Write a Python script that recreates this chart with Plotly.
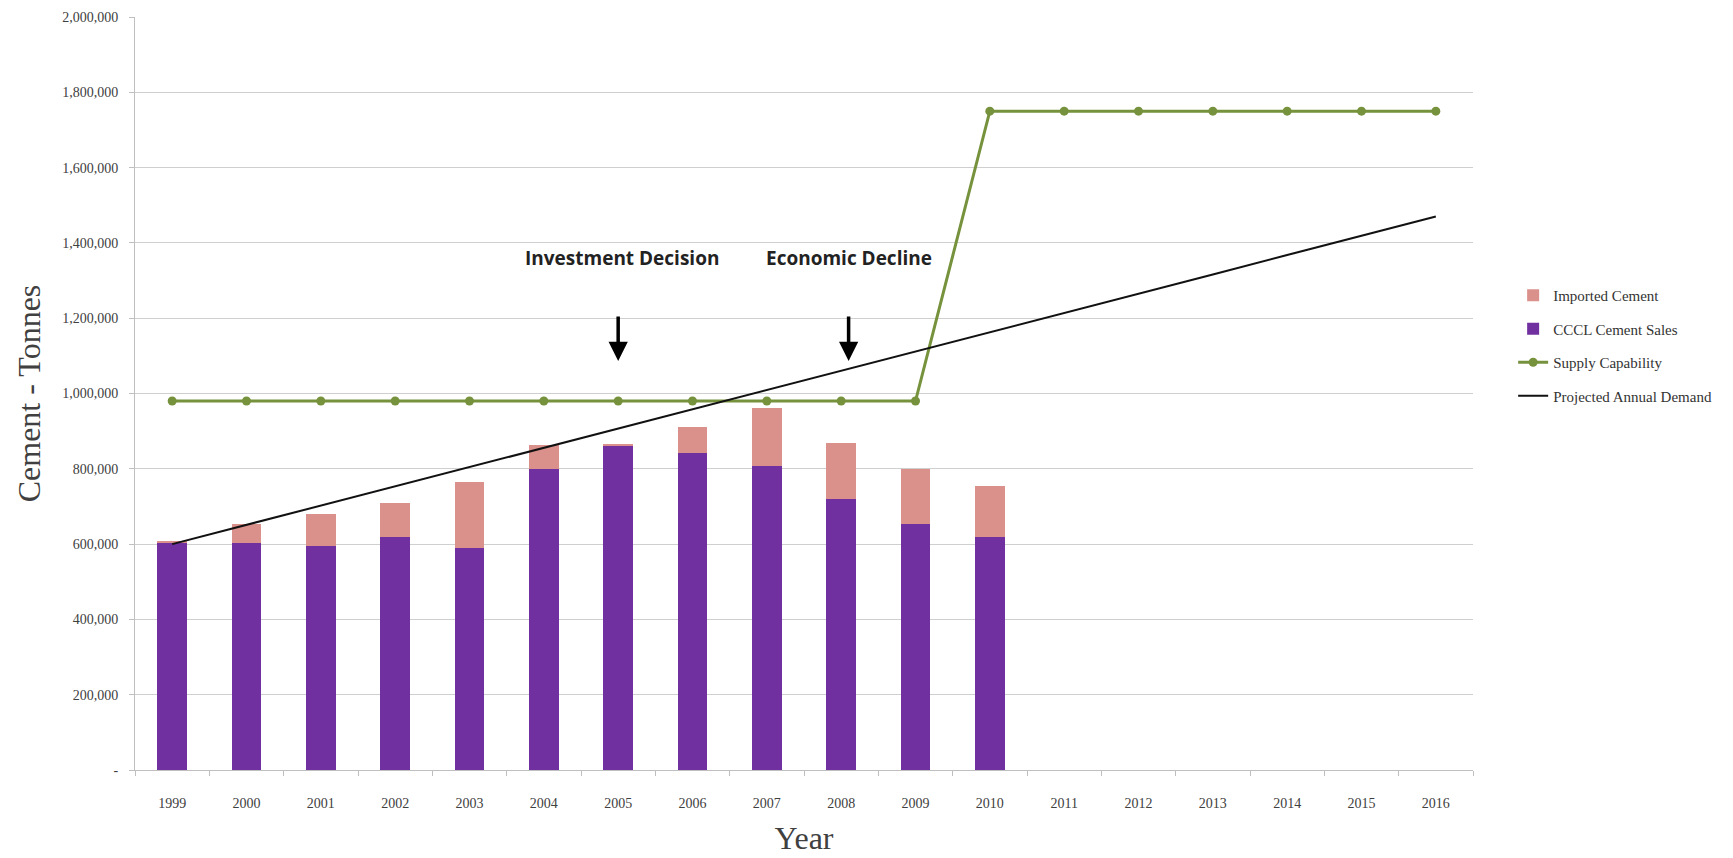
import plotly.graph_objects as go

years = [str(y) for y in range(1999, 2017)]
bar_years = years[:12]
cccl_sales = [602000, 602000, 595000, 620000, 589000, 799000, 863000, 843000, 807000, 721000, 653000, 620000]
imported = [7000, 51000, 85000, 90000, 175000, 63000, 2000, 67000, 154000, 148000, 146000, 134000]
supply = [980000] * 11 + [1750000] * 7
demand = [600000, 651000, 702000, 754000, 805000, 856000, 907000, 958000, 1009000,
          1061000, 1112000, 1163000, 1214000, 1265000, 1316000, 1368000, 1419000, 1470000]
ytick_vals = list(range(0, 2000001, 200000))
ytick_text = ["-"] + [f"{v:,}" for v in ytick_vals[1:]]

serif = "Liberation Serif"
fig = go.Figure()
fig.add_trace(go.Bar(x=bar_years, y=cccl_sales, name="CCCL Cement Sales",
                     marker=dict(color="#7030A0", line=dict(width=0)),
                     legendgroup="b", legendrank=2))
fig.add_trace(go.Bar(x=bar_years, y=imported, name="Imported Cement",
                     marker=dict(color="#DA908B", line=dict(width=0)),
                     legendgroup="a", legendrank=1))
fig.add_trace(go.Scatter(x=years, y=supply, name="Supply Capability", mode="lines+markers",
                         line=dict(color="#76923C", width=3),
                         marker=dict(color="#76923C", size=9),
                         legendgroup="c", legendrank=3))
fig.add_trace(go.Scatter(x=years, y=demand, name="Projected Annual Demand", mode="lines",
                         line=dict(color="#111111", width=2),
                         legendgroup="d", legendrank=4))

fig.update_layout(
    barmode="stack",
    bargap=0.6,
    width=1733, height=858,
    margin=dict(l=135, r=260, t=17, b=88),
    plot_bgcolor="white", paper_bgcolor="white",
    font=dict(family=serif, color="#404040"),
    legend=dict(x=1.03, y=0.652, xanchor="left", yanchor="top",
                font=dict(family=serif, size=15, color="#333333"),
                traceorder="grouped", tracegroupgap=11,
                bgcolor="rgba(0,0,0,0)"),
    xaxis=dict(type="category", categoryorder="array", categoryarray=years,
               range=[-0.5, 17.5], automargin=False,
               showgrid=False, showline=True, linecolor="#BFBFBF", linewidth=1,
               ticks="outside", tickson="boundaries", ticklen=5, tickcolor="#BFBFBF",
               ticklabelstandoff=20,
               tickfont=dict(family=serif, size=14, color="#404040"),
               title=dict(text="Year", font=dict(family=serif, size=32, color="#404040"),
                          standoff=16)),
    yaxis=dict(range=[0, 2000000], tickvals=ytick_vals, ticktext=ytick_text,
               automargin=False,
               showgrid=True, gridcolor="#CFCFCF", gridwidth=1,
               showline=True, linecolor="#BFBFBF", linewidth=1,
               ticks="outside", ticklen=5, tickcolor="#BFBFBF",
               ticklabelstandoff=8, zeroline=False,
               tickfont=dict(family=serif, size=14, color="#404040"),
               title=dict(text="Cement - Tonnes", font=dict(family=serif, size=32, color="#404040"),
                          standoff=12)),
)

anno_font = dict(family="Open Sans", size=19, color="#222222")
fig.add_annotation(x=6.05, y=1360000, text="<b>Investment Decision</b>", showarrow=False, font=anno_font)
fig.add_annotation(x=9.1, y=1360000, text="<b>Economic Decline</b>", showarrow=False, font=anno_font)
for xi in [6.0, 9.1]:
    fig.add_annotation(x=xi, y=1086000, text="", showarrow=True, ax=0, ay=-46,
                       arrowhead=2, arrowwidth=3.5, arrowsize=1.1, arrowcolor="#000000", standoff=0)

fig.write_html("out.html")
